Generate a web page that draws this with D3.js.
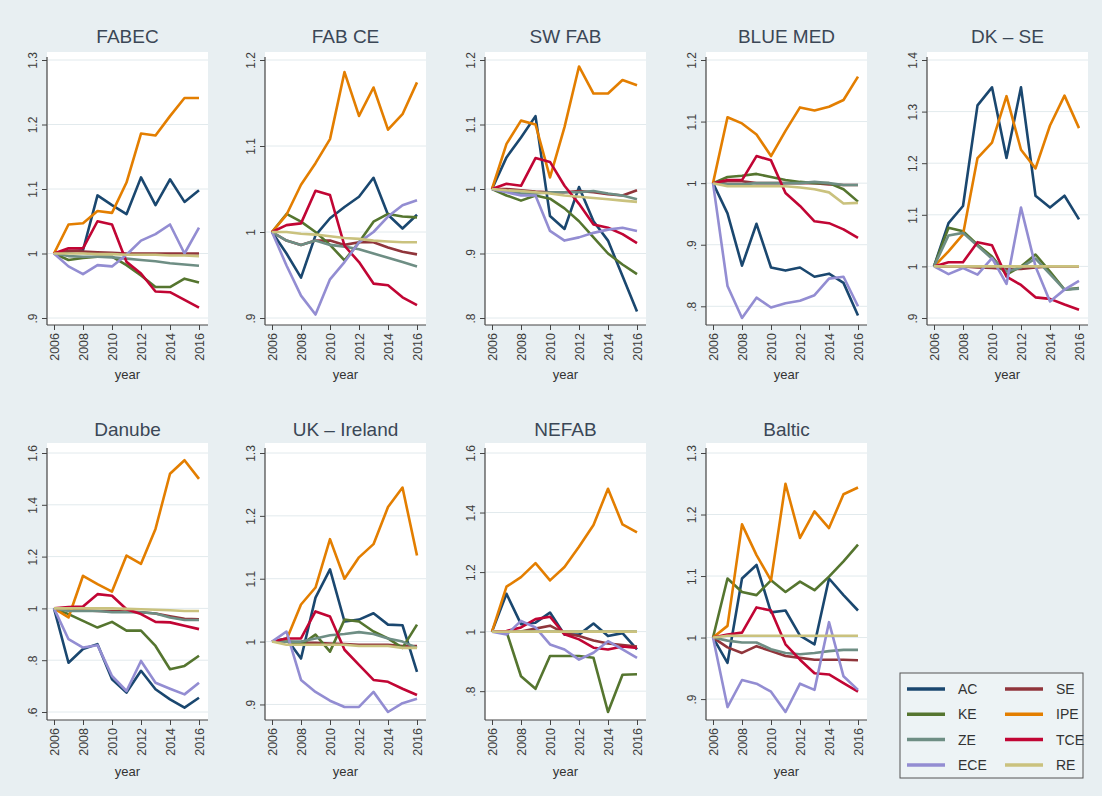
<!DOCTYPE html>
<html>
<head>
<meta charset="utf-8">
<script src="https://cdn.jsdelivr.net/npm/d3@7/dist/d3.min.js"></script>
<style>
  html, body { margin: 0; padding: 0; background: #e8eff2; }
  svg { display: block; font-family: "Liberation Sans", Arial, sans-serif; }
</style>
</head>
<body>
<svg id="chart" width="1102" height="796"></svg>
<script>
// Index of efficiency components by FAB, 2006 = 1
const years = [2006, 2007, 2008, 2009, 2010, 2011, 2012, 2013, 2014, 2015, 2016];
const yearTicks = [2006, 2008, 2010, 2012, 2014, 2016];
const seriesNames = ["AC", "SE", "KE", "IPE", "ZE", "TCE", "ECE", "RE"];
const seriesColors = ["#1a476f", "#90353b", "#55752f", "#e37e00", "#6e8e84", "#c10534", "#938dd2", "#cac27e"];

// each panel: one row per series, in seriesNames order
const FABEC = [
  [1, 1.003, 1.005, 1.09, 1.075, 1.061, 1.118, 1.075, 1.115, 1.08, 1.098],
  [1, 1.004, 1.003, 1.002, 1.001, 1.0, 1.0, 1.0, 1.0, 1.0, 1.0],
  [1, 0.99, 0.993, 0.995, 0.995, 0.982, 0.966, 0.948, 0.948, 0.961, 0.955],
  [1, 1.045, 1.047, 1.066, 1.063, 1.11, 1.186, 1.183, 1.213, 1.241, 1.241],
  [1, 0.996, 0.995, 0.995, 0.994, 0.992, 0.99, 0.988, 0.985, 0.983, 0.981],
  [1, 1.008, 1.008, 1.05, 1.045, 0.987, 0.969, 0.941, 0.94, 0.928, 0.916],
  [1, 0.98, 0.968, 0.982, 0.98, 0.998, 1.02, 1.03, 1.045, 1.0, 1.04],
  [1, 1.0, 1.0, 0.999, 0.999, 0.998, 0.998, 0.998, 0.997, 0.997, 0.996]
];
const FAB_CE = [
  [1, 0.975, 0.947, 0.996, 1.016, 1.029, 1.041, 1.063, 1.02, 1.004, 1.02],
  [1, 0.99, 0.985, 0.99, 0.99, 0.985, 0.988, 0.988, 0.982, 0.977, 0.974],
  [1, 1.021, 1.012, 1.0, 0.985, 0.967, 0.988, 1.012, 1.021, 1.018, 1.017],
  [1, 1.02, 1.055, 1.08, 1.108, 1.186, 1.135, 1.168, 1.119, 1.137, 1.174],
  [1, 0.99, 0.985, 0.99, 0.985, 0.983, 0.98, 0.975, 0.97, 0.965, 0.96],
  [1, 1.008, 1.01, 1.048, 1.043, 0.984, 0.965, 0.94, 0.938, 0.924, 0.915],
  [1, 0.961, 0.926, 0.904, 0.945, 0.965, 0.988, 1.0, 1.018, 1.031, 1.037],
  [1, 1.0, 0.998, 0.997, 0.995, 0.993, 0.992, 0.99, 0.989, 0.988, 0.988]
];
const SW_FAB = [
  [1, 1.049, 1.08, 1.113, 0.958, 0.938, 1.003, 0.95, 0.92, 0.865, 0.81],
  [1, 1.0, 0.998, 0.996, 0.995, 0.995, 0.997, 0.995, 0.992, 0.99, 0.998],
  [1, 0.99, 0.982, 0.99, 0.985, 0.97, 0.95, 0.925, 0.9, 0.883, 0.868],
  [1, 1.07, 1.106, 1.1, 1.018, 1.096, 1.19, 1.148, 1.148, 1.169, 1.161],
  [1, 0.996, 0.993, 0.993, 0.995, 0.995, 0.995, 0.997, 0.993, 0.99, 0.984],
  [1, 1.008, 1.005, 1.048, 1.042, 1.005, 0.977, 0.945, 0.94, 0.93, 0.916],
  [1, 0.995, 0.99, 0.99, 0.935, 0.92, 0.925, 0.932, 0.937, 0.94, 0.935],
  [1, 0.998, 0.997, 0.995, 0.993, 0.99, 0.988, 0.986, 0.984, 0.982, 0.98]
];
const BLUE_MED = [
  [1, 0.951, 0.866, 0.934, 0.863, 0.858, 0.863, 0.848, 0.853, 0.838, 0.785],
  [1, 1.003, 1.003, 1.0, 1.0, 1.0, 1.0, 1.0, 0.998, 0.997, 0.997],
  [1, 1.01, 1.012, 1.015, 1.01, 1.005, 1.002, 1.0, 1.0, 0.99, 0.97],
  [1, 1.107, 1.097, 1.079, 1.044, 1.085, 1.123, 1.118, 1.124, 1.135, 1.173],
  [1, 0.998, 0.998, 1.0, 1.0, 1.0, 1.0, 1.002, 1.0, 0.997, 0.997],
  [1, 1.005, 1.005, 1.044, 1.037, 0.984, 0.963, 0.938, 0.935, 0.925, 0.911],
  [1, 0.833, 0.781, 0.814, 0.798, 0.805, 0.809, 0.818, 0.845, 0.848, 0.8],
  [1, 0.995, 0.995, 0.995, 0.995, 0.995, 0.993, 0.99, 0.985, 0.967, 0.968]
];
const DK_SE = [
  [1, 1.084, 1.117, 1.312, 1.347, 1.21, 1.347, 1.137, 1.114, 1.137, 1.091],
  [1, 1.0, 1.0, 0.998, 0.997, 0.995, 0.995, 0.998, 1.0, 1.0, 1.0],
  [1, 1.075, 1.068, 1.042, 1.019, 0.984, 1.0, 1.023, 0.99, 0.955, 0.958],
  [1, 1.029, 1.062, 1.21, 1.24, 1.33, 1.226, 1.19, 1.273, 1.331, 1.268],
  [1, 1.06, 1.065, 1.04, 1.015, 0.99, 0.998, 1.015, 0.985, 0.955, 0.957],
  [1, 1.008, 1.008, 1.047, 1.041, 0.98, 0.964, 0.94, 0.937, 0.926, 0.916],
  [1, 0.985, 0.997, 0.984, 1.016, 0.966, 1.114, 1.0, 0.932, 0.955, 0.972],
  [1, 1.0, 1.0, 1.0, 1.0, 1.0, 1.0, 1.0, 1.0, 1.0, 1.0]
];
const DANUBE = [
  [1, 0.79, 0.843, 0.862, 0.726, 0.675, 0.759, 0.688, 0.649, 0.617, 0.655],
  [1, 0.995, 0.993, 0.99, 0.99, 0.988, 0.985, 0.98, 0.97, 0.96, 0.958],
  [1, 0.978, 0.952, 0.926, 0.948, 0.914, 0.914, 0.855, 0.765, 0.778, 0.817],
  [1, 0.965, 1.126, 1.094, 1.065, 1.204, 1.172, 1.307, 1.52, 1.572, 1.5],
  [1, 0.99, 0.99, 0.99, 0.985, 0.985, 0.985, 0.98, 0.965, 0.955, 0.955],
  [1, 1.005, 1.007, 1.055, 1.049, 0.997, 0.978, 0.948, 0.946, 0.933, 0.92],
  [1, 0.881, 0.849, 0.858, 0.739, 0.681, 0.797, 0.713, 0.69, 0.668, 0.713],
  [1, 1.0, 1.0, 1.0, 1.0, 0.998, 0.997, 0.995, 0.993, 0.99, 0.99]
];
const UK_IRELAND = [
  [1, 1.005, 0.973, 1.07, 1.115, 1.032, 1.035, 1.045, 1.027, 1.026, 0.952],
  [1, 1.0, 0.998, 0.998, 0.997, 0.996, 0.995, 0.995, 0.995, 0.993, 0.993],
  [1, 1.0, 0.995, 1.011, 0.984, 1.035, 1.032, 1.016, 1.005, 0.99, 1.027],
  [1, 1.003, 1.059, 1.086, 1.163, 1.1, 1.134, 1.155, 1.214, 1.245, 1.137],
  [1, 1.0, 1.0, 1.005, 1.01, 1.012, 1.015, 1.012, 1.005, 1.0, 0.99],
  [1, 1.005, 1.005, 1.048, 1.04, 0.987, 0.963, 0.939, 0.936, 0.925, 0.915],
  [1, 1.016, 0.939, 0.92, 0.906, 0.896, 0.896, 0.92, 0.888, 0.902, 0.909],
  [1, 0.995, 0.995, 0.995, 0.995, 0.995, 0.993, 0.993, 0.993, 0.99, 0.99]
];
const NEFAB = [
  [1, 1.127, 1.025, 1.03, 1.064, 0.99, 0.99, 1.027, 0.985, 0.995, 0.94],
  [1, 1.0, 1.0, 1.01, 1.02, 0.995, 0.985, 0.97, 0.96, 0.955, 0.95],
  [1, 1.0, 0.85, 0.808, 0.918, 0.918, 0.918, 0.912, 0.73, 0.855, 0.857],
  [1, 1.151, 1.183, 1.23, 1.172, 1.217, 1.285, 1.358, 1.48, 1.36, 1.333],
  [1, 1.0, 1.0, 1.0, 1.0, 1.0, 1.0, 1.0, 1.0, 1.0, 1.0],
  [1, 1.002, 1.014, 1.042, 1.05, 0.991, 0.974, 0.946, 0.94, 0.95, 0.945],
  [1, 0.99, 1.036, 1.014, 0.957, 0.94, 0.906, 0.929, 0.968, 0.94, 0.912],
  [1, 1.0, 1.0, 1.0, 1.0, 1.0, 1.0, 1.0, 1.0, 1.0, 1.0]
];
const BALTIC = [
  [1, 0.959, 1.096, 1.118, 1.041, 1.044, 1.003, 0.989, 1.096, 1.069, 1.044],
  [1, 0.984, 0.975, 0.986, 0.978, 0.97, 0.967, 0.964, 0.964, 0.964, 0.963],
  [1, 1.096, 1.074, 1.069, 1.093, 1.074, 1.091, 1.077, 1.099, 1.124, 1.151],
  [1, 1.019, 1.184, 1.134, 1.093, 1.25, 1.162, 1.205, 1.178, 1.233, 1.244],
  [1, 0.995, 0.992, 0.992, 0.981, 0.975, 0.973, 0.975, 0.978, 0.98, 0.98],
  [1, 1.005, 1.008, 1.049, 1.044, 0.989, 0.964, 0.942, 0.94, 0.926, 0.912],
  [1, 0.887, 0.931, 0.925, 0.912, 0.879, 0.925, 0.915, 1.025, 0.937, 0.915],
  [1, 1.003, 1.003, 1.003, 1.003, 1.003, 1.003, 1.003, 1.003, 1.003, 1.003]
];

const panelTitles = ["FABEC", "FAB CE", "SW FAB", "BLUE MED", "DK \u2013 SE",
                     "Danube", "UK \u2013 Ireland", "NEFAB", "Baltic"];
const panelData = [FABEC, FAB_CE, SW_FAB, BLUE_MED, DK_SE, DANUBE, UK_IRELAND, NEFAB, BALTIC];
const panelTicks = [
  [0.9, 1, 1.1, 1.2, 1.3],
  [0.9, 1, 1.1, 1.2],
  [0.8, 0.9, 1, 1.1, 1.2],
  [0.8, 0.9, 1, 1.1, 1.2],
  [0.9, 1, 1.1, 1.2, 1.3, 1.4],
  [0.6, 0.8, 1, 1.2, 1.4, 1.6],
  [0.9, 1, 1.1, 1.2, 1.3],
  [0.8, 1, 1.2, 1.4, 1.6],
  [0.9, 1, 1.1, 1.2, 1.3]
];

// grid layout of the small multiples
const colAxisX = [47, 265, 485, 706, 927];
const rows = [
  { plotTop: 52, rangeTop: 60, rangeBottom: 318, axisY: 325, titleY: 43, xTitleY: 379 },
  { plotTop: 443, rangeTop: 453, rangeBottom: 712, axisY: 720, titleY: 436, xTitleY: 776 }
];
const padLeft = 7, xSpan = 145, padRight = 9;

const svg = d3.select("#chart");
svg.append("rect").attr("width", 1102).attr("height", 796).attr("fill", "#e8eff2");

const fmt = d => (d === 1 ? "1" : String(d).replace(/^0/, ""));

panelData.forEach((data, i) => {
  const r = rows[i < 5 ? 0 : 1];
  const ax = colAxisX[i % 5];
  const ticks = panelTicks[i];
  const x = d3.scaleLinear().domain([2006, 2016]).range([ax + padLeft, ax + padLeft + xSpan]);
  const all = data.flat().concat(ticks);
  const y = d3.scaleLinear().domain([d3.min(all), d3.max(all)]).range([r.rangeBottom, r.rangeTop]);
  const right = ax + padLeft + xSpan + padRight;

  const g = svg.append("g");
  g.append("rect").attr("x", ax).attr("y", r.plotTop)
    .attr("width", right - ax).attr("height", r.axisY - r.plotTop).attr("fill", "#ffffff");

  // horizontal gridlines
  g.selectAll("line.grid").data(ticks).join("line")
    .attr("x1", ax + 1).attr("x2", right)
    .attr("y1", d => y(d)).attr("y2", d => y(d))
    .attr("stroke", "#e2eaed").attr("stroke-width", 1);

  // series lines
  const line = d3.line().x((d, k) => x(years[k])).y(d => y(d));
  data.forEach((vals, s) => {
    g.append("path").datum(vals).attr("d", line)
      .attr("fill", "none").attr("stroke", seriesColors[s])
      .attr("stroke-width", 2.6).attr("stroke-linejoin", "round");
  });

  // y axis
  const yAxis = d3.axisLeft(y).tickValues(ticks).tickSize(5).tickFormat(fmt);
  const ya = g.append("g").attr("transform", `translate(${ax},0)`).call(yAxis);
  ya.select(".domain").attr("d", `M0,${r.plotTop + 5}V${r.axisY}`);
  ya.selectAll(".tick line").attr("stroke", "#444");
  ya.selectAll(".tick text")
    .attr("transform", "rotate(-90)")
    .attr("x", 0).attr("y", -14).attr("dy", "0.35em")
    .attr("text-anchor", "middle")
    .attr("font-size", 12).attr("fill", "#3d3d3d");

  // x axis
  const xAxis = d3.axisBottom(x).tickValues(yearTicks).tickSize(5).tickFormat(d3.format("d"));
  const xa = g.append("g").attr("transform", `translate(0,${r.axisY})`).call(xAxis);
  xa.select(".domain").attr("d", `M${ax},0H${right}`);
  xa.selectAll(".tick line").attr("stroke", "#444");
  xa.selectAll(".tick text")
    .attr("transform", "rotate(-90)")
    .attr("x", -8).attr("y", 0).attr("dy", "0.35em")
    .attr("text-anchor", "end")
    .attr("font-size", 12.5).attr("fill", "#3d3d3d");
  g.selectAll(".domain").attr("stroke", "#444").attr("stroke-width", 1.2);

  // panel title and axis title
  g.append("text").attr("x", (ax + right) / 2).attr("y", r.titleY)
    .attr("text-anchor", "middle").attr("font-size", 19).attr("fill", "#3b4756")
    .text(panelTitles[i]);
  g.append("text").attr("x", (ax + right) / 2).attr("y", r.xTitleY)
    .attr("text-anchor", "middle").attr("font-size", 13).attr("fill", "#333")
    .text("year");
});

// legend, two columns filled row by row
const lg = svg.append("g");
lg.append("rect").attr("x", 900).attr("y", 673).attr("width", 183).attr("height", 105)
  .attr("fill", "#edf3f5").attr("stroke", "#555").attr("stroke-width", 1);
seriesNames.forEach((name, s) => {
  const col = s % 2, row = Math.floor(s / 2);
  const lx = 907 + col * 98, ly = 689 + row * 25.3;
  lg.append("line").attr("x1", lx).attr("x2", lx + 38).attr("y1", ly).attr("y2", ly)
    .attr("stroke", seriesColors[s]).attr("stroke-width", 3.5);
  lg.append("text").attr("x", lx + 51).attr("y", ly).attr("dy", "0.36em")
    .attr("font-size", 14).attr("fill", "#333").text(name);
});
</script>
</body>
</html>
